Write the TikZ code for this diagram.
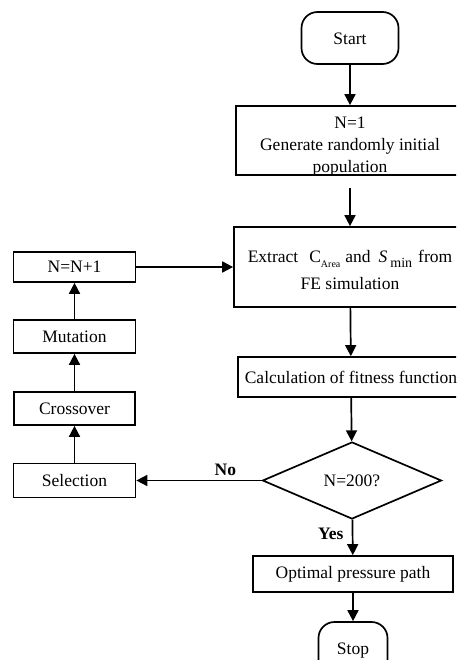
\documentclass[tikz,border=0pt]{standalone}
\usepackage{fontspec}
\setmainfont{Liberation Serif}
\usetikzlibrary{shapes.geometric,arrows.meta}
\begin{document}
\begin{tikzpicture}[x=1pt,y=-1pt,
  every node/.style={font=\fontsize{17.5}{21}\selectfont},
  box/.style={draw, line width=1.7pt, inner sep=0pt, align=center},
  term/.style={draw, line width=1.7pt, rounded corners=16pt, inner sep=0pt},
  arr/.style={line width=1.7pt, -{Triangle[length=11pt,width=11pt]}},
  lab/.style={font=\fontsize{17.5}{21}\selectfont\bfseries}
]
\clip (0,0) rectangle (456,660);
% main column
\node[term, minimum width=97pt, minimum height=52pt] (start) at (350,38) {\rule{0pt}{14pt}Start};
\node[box, minimum width=228pt, minimum height=69pt,
  path picture={\node[align=center] (inittext) at ([yshift=-6.5pt]path picture bounding box.center)
    {N=1\\[1pt]Generate randomly initial\\[1pt]population};}] (init) at (350,140.5) {};
\node[box, minimum width=232pt, minimum height=80pt] (extract) at (350,267)
  {\rule{0pt}{18pt}Extract\hspace{11pt}C\raisebox{-5pt}{\fontsize{10}{10}\selectfont Area}\hspace{5pt}and\hspace{8pt}\textit{S}\hspace{3pt}\raisebox{-5pt}{\fontsize{14}{14}\selectfont min}\hspace{6pt}from\\[6pt]FE simulation};
\node[box, minimum width=226pt, minimum height=40pt] (calc) at (351,377) {Calculation of fitness function};
\node[draw, diamond, line width=1.7pt, inner sep=0pt, minimum width=179pt, minimum height=77pt, aspect=2.32] (dec) at (352,480.5) {N=200?\hspace{15pt}};
\node[box, minimum width=200pt, minimum height=36pt] (opt) at (353,574) {Optimal pressure path};
\node[term, minimum width=69pt, minimum height=58pt] (stop) at (353,651) {Stop};
% left column
\node[box, minimum width=122pt, minimum height=30pt] (inc) at (74.5,267) {N=N+1};
\node[box, minimum width=122pt, minimum height=33pt] (mut) at (74.5,336.5) {Mutation};
\node[box, minimum width=121pt, minimum height=33pt] (cross) at (74.5,408.5) {Crossover};
\node[box, minimum width=122pt, minimum height=34pt] (sel) at (74.5,480.5) {Selection};
% connectors
\draw[arr] (start) -- (init);
\draw[arr, shorten <=12pt] (init) -- (extract);
\draw[arr] (extract) -- (calc);
\draw[arr] (calc) -- (dec);
\draw[arr] (dec) -- node[lab, left=5pt, pos=0.4] {Yes} (opt);
\draw[arr] (opt) -- (stop);
\draw[arr] (dec) -- node[lab, above=1pt, pos=0.29] {No} (sel);
\draw[arr] (sel) -- (cross);
\draw[arr] (cross) -- (mut);
\draw[arr] (mut) -- (inc);
\draw[arr] (inc) -- (extract);
\end{tikzpicture}
\end{document}
